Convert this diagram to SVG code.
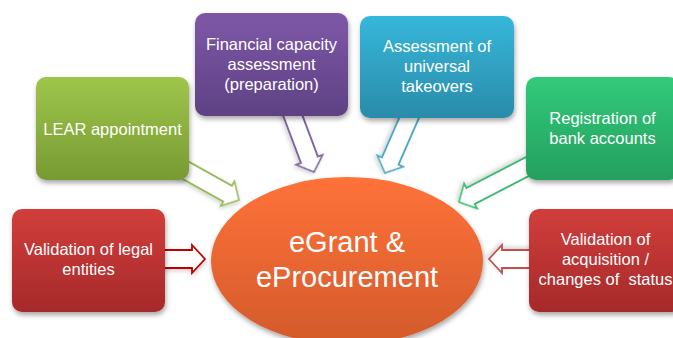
<svg xmlns="http://www.w3.org/2000/svg" xmlns:xlink="http://www.w3.org/1999/xlink" width="673" height="338" viewBox="0 0 673 338">
  <defs>
    <linearGradient id="gPurple" x1="0" y1="0" x2="0" y2="1">
      <stop offset="0" stop-color="#7E58A8"/>
      <stop offset="1" stop-color="#5E4184"/>
    </linearGradient>
    <linearGradient id="gBlue" x1="0" y1="0" x2="0" y2="1">
      <stop offset="0" stop-color="#36B7DA"/>
      <stop offset="1" stop-color="#2A8BAA"/>
    </linearGradient>
    <linearGradient id="gOlive" x1="0" y1="0" x2="0" y2="1">
      <stop offset="0" stop-color="#9EC64B"/>
      <stop offset="1" stop-color="#789A33"/>
    </linearGradient>
    <linearGradient id="gGreen" x1="0" y1="0" x2="0" y2="1">
      <stop offset="0" stop-color="#31CA7B"/>
      <stop offset="1" stop-color="#259F5E"/>
    </linearGradient>
    <linearGradient id="gRed" x1="0" y1="0" x2="0" y2="1">
      <stop offset="0" stop-color="#D13E3B"/>
      <stop offset="1" stop-color="#A6292A"/>
    </linearGradient>
    <linearGradient id="gOrange" x1="0" y1="0" x2="0" y2="1">
      <stop offset="0" stop-color="#FF7239"/>
      <stop offset="1" stop-color="#D35A2B"/>
    </linearGradient>
    <filter id="shadow" x="-20%" y="-20%" width="140%" height="150%">
      <feDropShadow dx="1" dy="3" stdDeviation="2.5" flood-color="#000" flood-opacity="0.35"/>
    </filter>
    <filter id="softShadow" x="-30%" y="-30%" width="160%" height="160%">
      <feDropShadow dx="1" dy="2" stdDeviation="2" flood-color="#000" flood-opacity="0.18"/>
    </filter>
    <!-- hollow block arrow, tip at origin, pointing along +x -->
    <path id="arrowShort" d="M0,0 L-13,-14 L-13,-9 L-50,-9 L-50,9 L-13,9 L-13,14 Z"/>
    <path id="arrowLong" d="M0,0 L-13,-14 L-13,-9 L-80,-9 L-80,9 L-13,9 L-13,14 Z"/>
  </defs>
  <style>
    .box { filter: url(#shadow); }
    .lbl { font-family: "Liberation Sans", Arial, sans-serif; font-size: 16.5px; fill: #ffffff; text-anchor: middle; white-space: pre; }
    .hub { font-family: "Liberation Sans", Arial, sans-serif; font-size: 29px; fill: #ffffff; text-anchor: middle; }
    .arrow { fill: #ffffff; stroke-width: 1.8; stroke-linejoin: miter; filter: url(#softShadow); }
  </style>

  <rect width="673" height="338" fill="#ffffff"/>

  <!-- arrows pointing into the central hub -->
  <g id="connectors">
    <use xlink:href="#arrowShort" class="arrow" stroke="#C00000" transform="translate(205,259)"/>
    <use xlink:href="#arrowShort" class="arrow" stroke="#C0504D" transform="translate(489,259) rotate(180)"/>
    <use xlink:href="#arrowLong" class="arrow" stroke="#8064A2" transform="translate(314,172) rotate(69.4)"/>
    <use xlink:href="#arrowLong" class="arrow" stroke="#4BACC6" transform="translate(385,173) rotate(113.6)"/>
    <use xlink:href="#arrowLong" class="arrow" stroke="#9BBB59" transform="translate(239,200) rotate(29.1)"/>
    <use xlink:href="#arrowLong" class="arrow" stroke="#3DBB75" transform="translate(459,202) rotate(152.6)"/>
  </g>

  <g id="hub">
    <ellipse cx="347" cy="261" rx="136" ry="84" fill="url(#gOrange)" filter="url(#shadow)"/>
    <text class="hub" x="347" y="252">eGrant &amp;</text>
    <text class="hub" x="347" y="287">eProcurement</text>
  </g>

  <g id="financial-capacity">
    <rect class="box" x="195" y="13" width="153" height="103" rx="10" fill="url(#gPurple)"/>
    <text class="lbl" x="271.5" y="50">Financial capacity</text>
    <text class="lbl" x="271.5" y="70">assessment</text>
    <text class="lbl" x="271.5" y="90">(preparation)</text>
  </g>

  <g id="universal-takeovers">
    <rect class="box" x="360" y="16" width="154" height="102" rx="10" fill="url(#gBlue)"/>
    <text class="lbl" x="437" y="52">Assessment of</text>
    <text class="lbl" x="437" y="72">universal</text>
    <text class="lbl" x="437" y="92">takeovers</text>
  </g>

  <g id="lear-appointment">
    <rect class="box" x="36" y="77" width="153" height="103" rx="10" fill="url(#gOlive)"/>
    <text class="lbl" x="112.5" y="135">LEAR appointment</text>
  </g>

  <g id="bank-accounts">
    <rect class="box" x="526" y="77" width="153" height="103" rx="10" fill="url(#gGreen)"/>
    <text class="lbl" x="602.5" y="124">Registration of</text>
    <text class="lbl" x="602.5" y="144">bank accounts</text>
  </g>

  <g id="legal-entities">
    <rect class="box" x="12" y="209" width="153" height="103" rx="10" fill="url(#gRed)"/>
    <text class="lbl" x="88.5" y="255">Validation of legal</text>
    <text class="lbl" x="88.5" y="275">entities</text>
  </g>

  <g id="acquisition-status">
    <rect class="box" x="529" y="209" width="153" height="103" rx="10" fill="url(#gRed)"/>
    <text class="lbl" x="605.5" y="245">Validation of</text>
    <text class="lbl" x="605.5" y="265">acquisition /</text>
    <text class="lbl" x="605.5" y="285">changes of  status</text>
  </g>
</svg>
